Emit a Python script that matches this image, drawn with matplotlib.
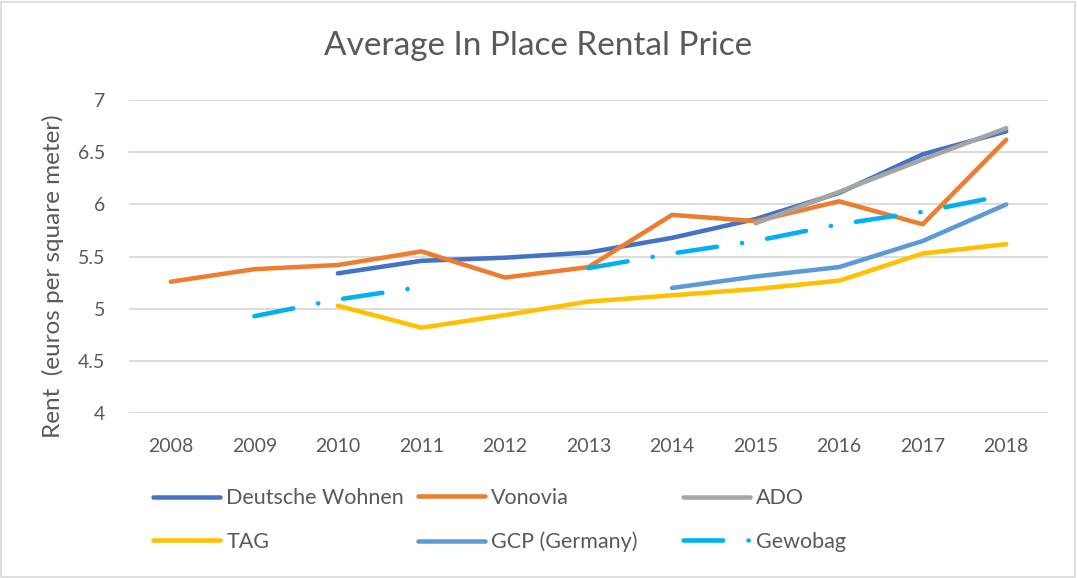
import numpy as np
import matplotlib.pyplot as plt
from matplotlib.patches import Rectangle

nan = np.nan
years = list(range(2008, 2019))

deutsche_wohnen = [nan, nan, 5.34, 5.46, 5.49, 5.54, 5.68, 5.86, 6.11, 6.48, 6.70]
vonovia = [5.26, 5.38, 5.42, 5.55, 5.30, 5.40, 5.90, 5.84, 6.03, 5.81, 6.62]
ado = [nan, nan, nan, nan, nan, nan, nan, 5.82, 6.12, 6.43, 6.73]
tag = [nan, nan, 5.03, 4.82, 4.94, 5.07, 5.13, 5.19, 5.27, 5.53, 5.62]
gcp = [nan, nan, nan, nan, nan, nan, 5.20, 5.31, 5.40, 5.65, 6.00]
gewobag = [nan, 4.93, 5.09, 5.21, nan, 5.39, 5.53, 5.65, 5.81, 5.93, 6.09]

txt = '#595959'
plt.rcParams['font.family'] = ['Lato', 'DejaVu Sans']

fig = plt.figure(figsize=(10.77, 5.78), dpi=100)
ax = fig.add_axes([129/1077, 1 - 413.3/578, 919/1077, 313.3/578])

lw = 3.25
kw = dict(lw=lw, solid_capstyle='round', solid_joinstyle='round',
          dash_capstyle='round')
ax.plot(years, deutsche_wohnen, color='#4472C4', label='Deutsche Wohnen', **kw)
ax.plot(years, vonovia, color='#ED7D31', label='Vonovia', **kw)
ax.plot(years, ado, color='#A5A5A5', label='ADO', **kw)
ax.plot(years, tag, color='#FFC000', label='TAG', **kw)
ax.plot(years, gcp, color='#5B9BD5', label='GCP (Germany)', **kw)

# dash-dot series, split at the missing year so each piece starts with a dash
dashdot = (0, (8.8, 5.6, 0.05, 5.6))
gx = np.array(years, dtype=float)
gy = np.array(gewobag)
breaks = np.where(np.isnan(gy))[0]
start = 0
first = True
for b in list(breaks) + [len(gy)]:
    seg = slice(start, b)
    if b - start > 1:
        ax.plot(gx[seg], gy[seg], color='#00B0F0', ls=dashdot,
                label='Gewobag' if first else '_nolegend_', **kw)
        first = False
    start = b + 1

ax.set_xlim(2007.5, 2018.5)
ax.set_ylim(4, 7)
ax.set_xticks(years)
ax.set_yticks([4, 4.5, 5, 5.5, 6, 6.5, 7])
ax.set_yticklabels(['4', '4.5', '5', '5.5', '6', '6.5', '7'])
ax.tick_params(length=0, labelsize=14, colors=txt)
ax.tick_params(axis='x', pad=18)
ax.tick_params(axis='y', pad=17)
ax.grid(axis='y', color='#D9D9D9', lw=1.3)
ax.set_axisbelow(True)
for s in ax.spines.values():
    s.set_visible(False)

ax.set_ylabel('Rent  (euros per square meter)', fontsize=17.5, color=txt, va='center')
ax.yaxis.set_label_coords(-0.083, 0.438)

fig.text(0.5, 1 - 46/578, 'Average In Place Rental Price', ha='center',
         va='center', fontsize=24, color=txt, fontweight='normal')

handles, labels = ax.get_legend_handles_labels()
cols = [[0, 3], [1, 4], [2, 5]]
xs = [153, 418, 683]
for c, x in zip(cols, xs):
    leg = fig.legend([handles[i] for i in c], [labels[i] for i in c],
                     loc='center left', bbox_to_anchor=(x/1077, 1 - 520/578),
                     bbox_transform=fig.transFigure, frameon=False,
                     fontsize=15.5, labelcolor=txt, borderpad=0, borderaxespad=0,
                     handlelength=3.1, handletextpad=0.3, labelspacing=1.1)

fig.add_artist(Rectangle((0.001, 0.002), 0.997, 0.995, transform=fig.transFigure,
                         fill=False, ec='#D9D9D9', lw=1.2))

fig.savefig('out.png', dpi=100)
